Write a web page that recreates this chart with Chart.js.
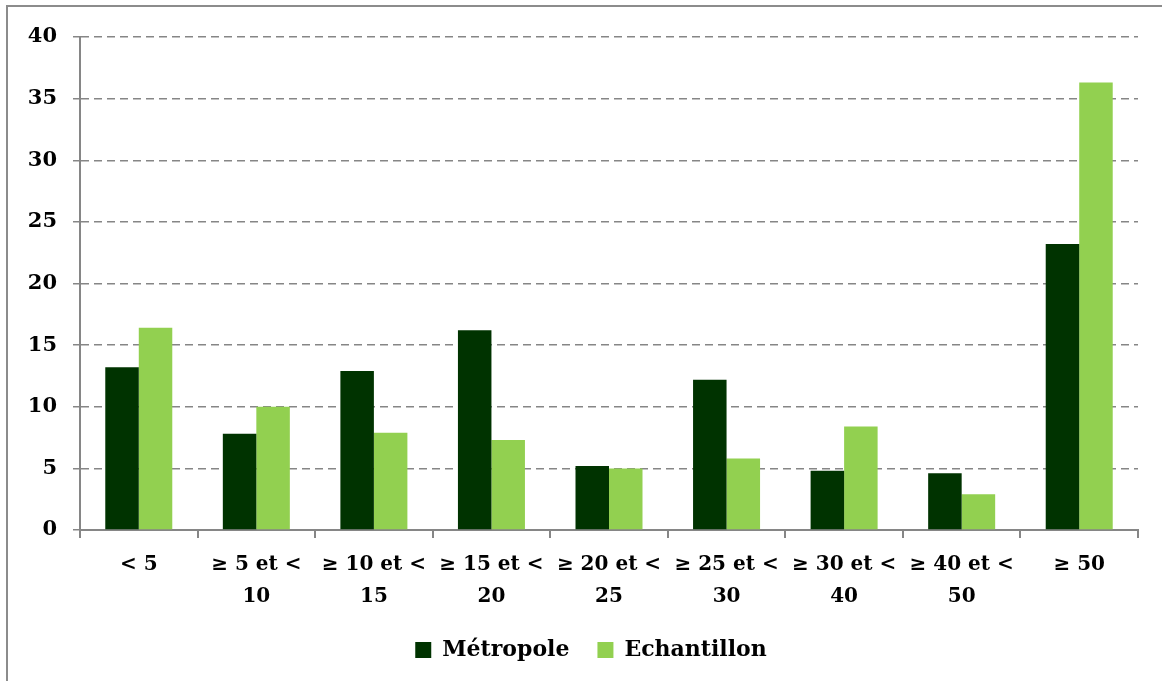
<!DOCTYPE html>
<html>
<head>
<meta charset="utf-8">
<script src="https://cdn.jsdelivr.net/npm/chart.js@4"></script>
<style>
  html, body { margin: 0; padding: 0; background: #fff; }
  #wrap { position: relative; width: 1162px; height: 681px; overflow: hidden; }
  #frame { position: absolute; left: 6px; top: 5px; width: 1170px; height: 690px; border: 2px solid #8c8c8c; box-sizing: border-box; }
  canvas { position: absolute; left: 0; top: 0; }
</style>
</head>
<body>
<div id="wrap">
  <div id="frame"></div>
  <canvas id="chart" width="1162" height="681"></canvas>
</div>
<script>
// Age classes (x axis)
const categories = [
  ['< 5'],
  ['≥ 5 et <', '10'],
  ['≥ 10 et <', '15'],
  ['≥ 15 et <', '20'],
  ['≥ 20 et <', '25'],
  ['≥ 25 et <', '30'],
  ['≥ 30 et <', '40'],
  ['≥ 40 et <', '50'],
  ['≥ 50']
];

// Shares in %
const metropole = [13.2, 7.8, 12.9, 16.2, 5.2, 12.2, 4.8, 4.6, 23.2];
const echantillon = [16.4, 10.0, 7.9, 7.3, 5.0, 5.8, 8.4, 2.9, 36.3];

const darkGreen = '#003300';
const lightGreen = '#92d050';
const axisGray = '#868686';
const fontFamily = "'DejaVu Serif', 'Liberation Serif', serif";

// nudge the legend a little to the right, like the original
const legendShift = {
  id: 'legendShift',
  afterLayout(chart) {
    if (chart.legend) {
      chart.legend.left += 22;
      chart.legend.right += 22;
    }
  }
};

new Chart(document.getElementById('chart').getContext('2d'), {
  type: 'bar',
  data: {
    labels: categories,
    datasets: [
      {
        label: 'Métropole',
        data: metropole,
        backgroundColor: darkGreen,
        borderWidth: 0,
        categoryPercentage: 0.57,
        barPercentage: 1.0
      },
      {
        label: 'Echantillon',
        data: echantillon,
        backgroundColor: lightGreen,
        borderWidth: 0,
        categoryPercentage: 0.57,
        barPercentage: 1.0
      }
    ]
  },
  options: {
    responsive: false,
    animation: false,
    layout: { padding: { top: 37, right: 24, left: 0, bottom: 10 } },
    plugins: {
      legend: {
        display: true,
        position: 'bottom',
        labels: {
          color: '#000',
          font: { family: fontFamily, size: 22, weight: 'bold' },
          usePointStyle: true,
          pointStyle: 'rect',
          boxWidth: 16,
          boxHeight: 16,
          padding: 28
        }
      },
      tooltip: { enabled: false }
    },
    scales: {
      x: {
        grid: {
          offset: true,
          drawOnChartArea: false,
          color: axisGray,
          lineWidth: 2,
          tickLength: 8
        },
        border: { color: axisGray, width: 2 },
        ticks: {
          color: '#000',
          font: { family: fontFamily, size: 20, weight: 'bold', lineHeight: 1.6 },
          padding: 11,
          maxRotation: 0,
          autoSkip: false
        },
        afterFit: s => { s.height = 81; }
      },
      y: {
        min: 0,
        max: 40,
        ticks: {
          stepSize: 5,
          color: '#000',
          font: { family: fontFamily, size: 21, weight: 'bold' },
          padding: 16
        },
        grid: {
          color: axisGray,
          lineWidth: 1.5,
          tickLength: 7,
          tickBorderDash: [],
          tickColor: axisGray
        },
        // dashed gridlines inside the plot
        border: { color: axisGray, width: 2, dash: [8, 5] },
        afterFit: s => { s.width = 80; }
      }
    }
  },
  plugins: [legendShift]
});
</script>
</body>
</html>
